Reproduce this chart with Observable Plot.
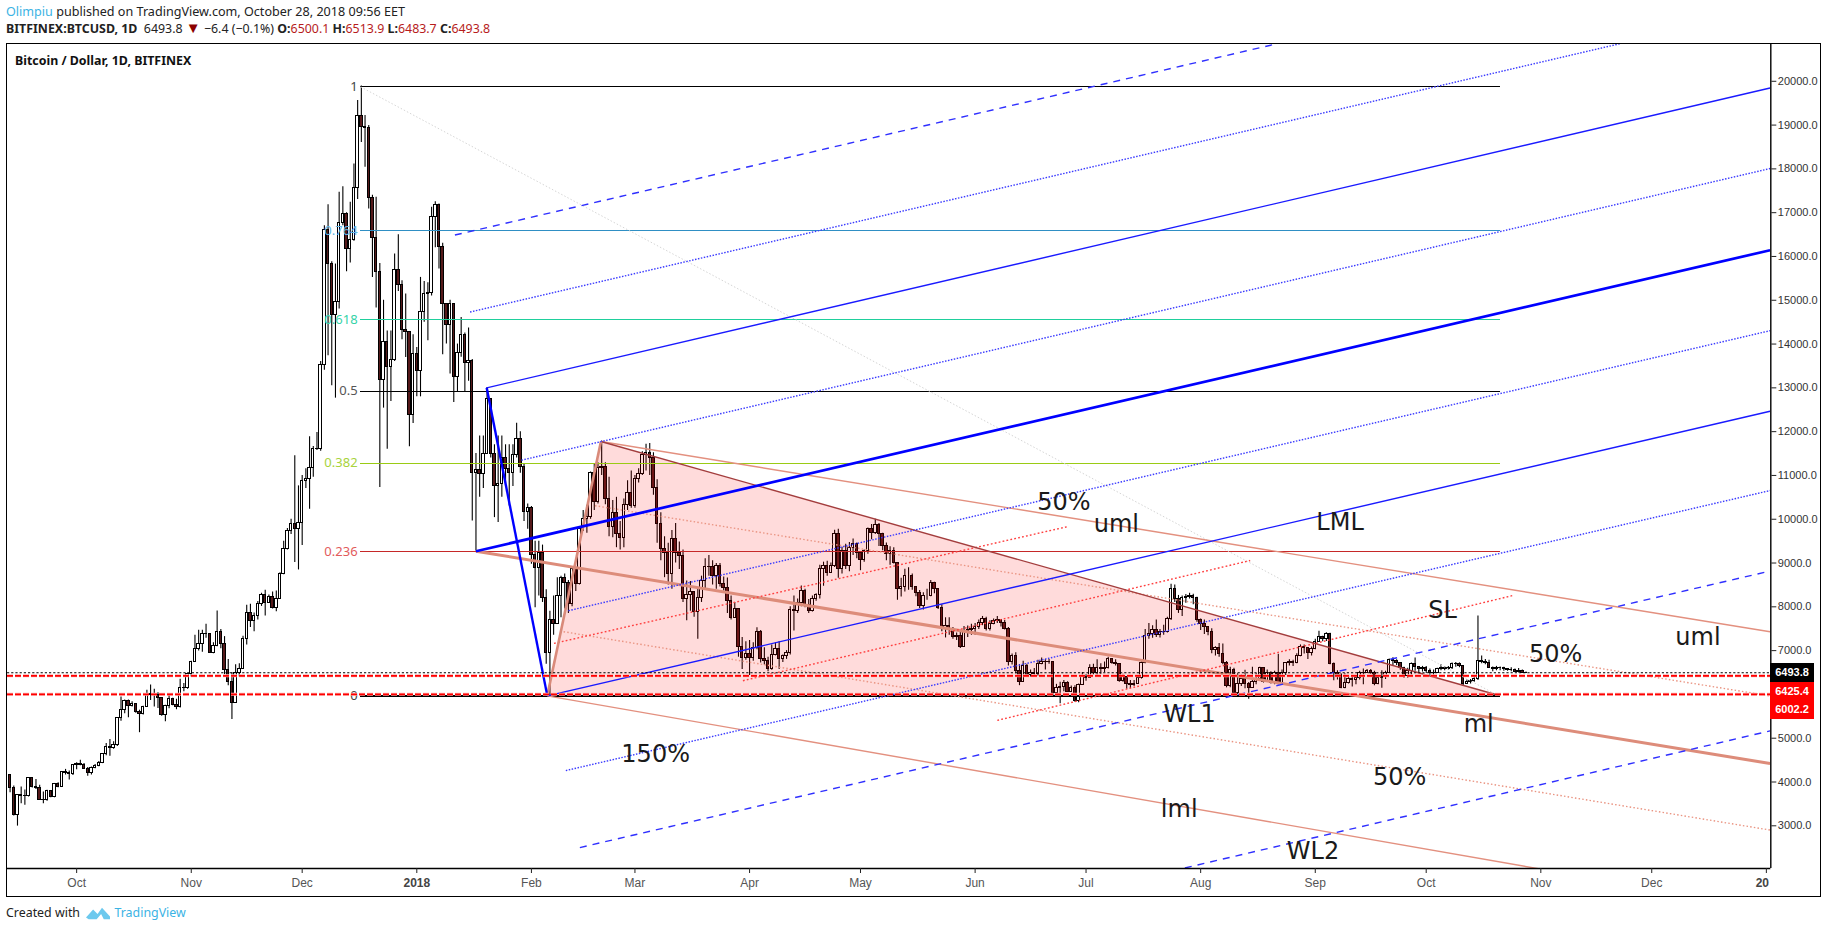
<!DOCTYPE html>
<html><head><meta charset="utf-8">
<script src="https://cdn.jsdelivr.net/npm/d3@7"></script>
<script src="https://cdn.jsdelivr.net/npm/@observablehq/plot@0.6"></script>
<style>
html,body{margin:0;padding:0;background:#fff;width:1828px;height:930px;overflow:hidden}
body{position:relative;font-family:"Noto Sans",sans-serif;color:#222}
.hd{position:absolute;left:6px;white-space:nowrap;font-size:12.4px;line-height:16px}
.hd b{font-weight:700}.hd i{font-style:normal;color:#b71c1c}
#frame{position:absolute;left:6px;top:43px;width:1813px;height:852px;border:1.5px solid #000;pointer-events:none}
#chart{position:absolute;left:7px;top:44px}
.tag{position:absolute;left:1770px;width:44px;height:18.6px;line-height:18.6px;text-align:center;color:#fff;font:700 11px/18.6px "Liberation Sans",sans-serif}
#name{position:absolute;left:15px;top:52px;font-size:12.4px;font-weight:700;color:#111}
</style></head><body>
<div class="hd" style="top:4px;font-size:12.6px"><span style="color:#3bb3e4">Olimpiu</span> published on TradingView.com, October 28, 2018 09:56 EET</div>
<div class="hd" style="top:21px"><b>BITFINEX:BTCUSD, 1D</b>&nbsp; 6493.8 <span style="color:#8b0000;font-size:15px;line-height:12px">▼</span> −6.4 (−0.1%) <b>O:</b><i>6500.1</i> <b>H:</b><i>6513.9</i> <b>L:</b><i>6483.7</i> <b>C:</b><i>6493.8</i></div>
<div id="chart"></div><div id="frame"></div>
<div id="name">Bitcoin / Dollar, 1D, BITFINEX</div>
<div class="hd" style="top:905px">Created with
<svg width="24" height="14" viewBox="0 0 27 14" style="vertical-align:-3px;margin:0 1px 0 3px"><path d="M0 12 L8 3 L13 8 L18 1 L27 11 L27 14 L20 14 L17 8 L12 14 L3 14 Z" fill="#6cc9ee"/></svg>
<span style="color:#3bb3e4;font-size:12.4px">TradingView</span></div>
<script>
// Daily closes, highs, lows of BTCUSD from 13 Sep 2017 (one row per month)
const firstDate = "2017-09-13", firstOpen = 4158;
const closes = [
3854,3237,3701,3680,3670,4082,3892,3869,3595,3590,3793,3656,3945,3892,4227,4197,4173,4387,
4410,4395,4303,4204,4311,4363,4440,4631,4798,4785,4844,5453,5636,5849,5735,5773,5606,5560,5712,6002,5995,5979,5910,5530,5735,5887,5758,5712,6154,6139,6459,
6748,7030,7144,7373,7370,6954,7106,7434,7144,6550,6291,5811,6497,6588,7274,7868,7677,7792,8058,8272,8096,8234,7982,8188,8759,9314,9730,9886,9772,9909,
10876,10914,11166,11600,11610,13527,16604,15827,14669,14951,16764,16970,16170,16383,17564,19217,18950,18935,17335,16414,15637,13176,14037,13466,13633,15690,15355,14319,14280,12384,13770,
13375,14738,15142,15157,16909,17175,16208,14913,14433,14913,13253,13786,14205,13557,13603,11067,11120,11028,11485,12741,11500,10761,10814,11400,11142,11065,11469,11827,11202,10174,10266,
9176,8894,9222,8194,6952,7691,7600,8247,8666,8552,8072,8856,8513,9770,10000,10060,11066,10403,11164,11200,10456,9830,10150,9670,9580,10319,10593,10304,
10913,11027,11469,11507,11393,10723,9900,9313,9237,8757,9542,9240,9150,8171,8262,8330,7881,8209,8590,8910,8900,8700,8930,8520,8430,8130,7752,7942,7089,6838,6930,
6830,7068,7425,6801,6763,6588,6892,7045,6801,6877,6953,7921,7905,8096,8362,8043,7905,8172,8271,8873,8934,8781,8934,9657,8858,9276,8934,9353,9429,9238,
9063,9276,9772,9695,9871,9657,9391,9200,9276,9010,8416,8454,8705,8705,8454,8324,8020,8248,8248,8553,8400,7982,7525,7563,7464,7311,7334,7090,7448,7464,7486,
7540,7639,7715,7486,7616,7677,7692,7639,7502,6748,6877,6534,6291,6649,6443,6489,6458,6702,6732,6748,6732,6024,6154,6169,6260,6062,6139,5850,6215,6398,
6383,6611,6497,6596,6588,6611,6801,6725,6687,6306,6398,6230,6215,6245,6367,6725,7335,7380,7470,7350,7420,7426,7716,8401,8188,7921,8195,8220,8249,8211,7693,
7601,7530,7434,7007,7053,6931,6718,6192,6550,6040,6230,6344,6230,6154,6283,6344,6596,6283,6497,6268,6497,6268,6497,6710,6750,6710,6878,7083,7053,6955,7030,
7205,7312,7259,7373,6703,6497,6440,6154,6268,6344,6330,6367,6497,6500,6540,6496,6230,6367,6397,6496,6778,6763,6717,6611,6420,6534,6687,6634,6572,6611,
6534,6496,6480,6572,6611,6590,6611,6687,6700,6650,6245,6285,6300,6360,6763,6740,6725,6610,6575,6600,6595,6580,6560,6555,6520,6530,6500,6493.8];
const highs = [
3865,3907,3710,3884,3815,4100,3955,4060,3925,3770,3812,3800,3967,3983,4240,4288,4250,4400,
4440,4495,4420,4330,4340,4400,4470,4650,4880,4973,4920,5470,5941,5870,5870,5835,5790,5640,5730,6093,6215,6120,6040,5925,5750,5980,5910,5890,6344,6250,6490,
6760,7350,7464,7464,7601,7390,7180,7906,7480,7320,6800,6500,6680,6700,7330,8035,8060,7860,8120,8310,8380,8270,8340,8360,8780,9500,9790,10000,11447,10762,
11000,11150,11882,11660,11980,13600,16700,17183,15880,15827,17465,17594,17000,17236,18112,19560,19891,19217,18990,17400,17350,15842,15000,14300,14300,16056,16497,15446,15142,14288,14212,
13920,15522,15431,15400,17122,17251,17200,16300,14913,15000,14913,14000,14608,14250,14365,13650,11500,11900,11900,13008,12741,11700,11903,11903,11700,11700,11700,12193,11995,11250,10350,
10290,9500,9500,9410,8390,7900,8250,8666,8700,8750,8600,8900,8860,9800,10200,10320,11080,11250,11290,11785,11290,10960,10430,10500,9950,10460,10880,11100,
11000,11150,11540,11710,11728,11520,10900,10150,9600,9450,9740,9900,9480,9300,8590,8580,8350,8400,8700,9100,9170,9050,8990,8990,8680,8660,8250,8100,7950,7300,7200,
7230,7180,7520,7460,7068,6850,7130,7180,7200,6900,7000,8000,8248,8180,8477,8400,8170,8250,8300,8950,9020,9040,9000,9749,9770,9360,9430,9467,9550,9460,
9260,9300,9800,9880,10000,9900,9680,9460,9370,9350,9010,8650,8858,8890,8750,8460,8370,8320,8400,8600,8560,8420,8050,7750,7750,7530,7400,7450,7550,7560,7600,
7620,7700,7780,7760,7680,7720,7780,7700,7690,7530,6920,6950,6680,6760,6690,6560,6590,6780,6830,6800,6800,6740,6230,6280,6320,6290,6190,6200,6240,6500,
6450,6680,6690,6790,6700,6740,6850,6810,6790,6700,6460,6400,6320,6320,6400,6760,7480,7620,7570,7700,7480,7580,7760,8515,8500,8260,8250,8280,8310,8290,8220,
7720,7700,7540,7500,7090,7160,7150,6750,6620,6600,6470,6450,6550,6270,6620,6480,6620,6600,6560,6520,6530,6916,6560,6730,6790,6780,6930,7130,7130,7070,7080,
7260,7440,7330,7410,7396,6720,6540,6470,6470,6400,6410,6420,6530,6580,6570,6570,6530,6420,6540,6530,6810,6840,6790,6730,6620,6600,6720,6830,6640,6640,
6640,6580,6560,6600,6680,6630,6640,6720,6730,6720,6660,6330,6340,6380,7791,6877,6800,6780,6625,6640,6625,6620,6590,6610,6580,6590,6560,6513.9];
const lows = [
3755,3225,2993,3503,3470,3655,3865,3830,3585,3504,3560,3640,3640,3870,3880,4160,4044,4150,
4280,4370,4290,4130,4160,4300,4350,4420,4600,4590,4750,4810,5390,5560,5468,5710,5570,5126,5530,5700,5860,5710,5680,5500,5377,5670,5740,5650,5690,6060,6120,
6400,6750,6990,6960,7280,6954,6930,7090,7040,6450,6200,5430,5810,6400,6590,7130,7530,7430,7700,8010,7792,8080,7950,7890,8170,8730,9300,9650,9010,8842,
9400,10700,10229,10960,11570,11550,13400,13733,13047,12765,14800,16700,15652,15850,16350,17300,18600,18036,17084,15522,14822,10724,12537,11600,12689,13600,15200,14100,13694,11653,12186,
12795,12795,14500,14075,15100,16200,15713,13755,14000,13314,12666,12894,13700,12894,13150,9962,9276,10500,10700,11480,11400,10037,9923,10500,10750,10304,10750,11400,11050,9950,9770,
8970,7980,8250,8100,6686,5975,7350,7600,7750,7950,7850,8000,8350,8500,9720,9680,10000,10200,10350,11000,10330,9600,9580,9350,9300,9350,10200,10250,
10250,10830,11000,11100,11000,10550,9450,9050,8666,8500,8400,9000,8850,8100,7680,7900,7760,7257,8100,8400,8700,8500,8400,8450,8360,7850,7700,7740,6850,6571,6780,
6430,6760,7020,6720,6670,6520,6550,6880,6570,6730,6800,6900,7450,7850,8000,7980,7850,7880,8130,8180,8470,8700,8850,8900,8650,8750,8850,8800,9170,9100,
8825,9020,9200,9530,9650,9380,9280,9050,8950,8980,8150,8225,8340,8380,8380,8230,7960,7930,8150,8230,8300,7940,7430,7290,7350,7260,7230,7050,7070,7300,7350,
7350,7480,7570,7450,7450,7590,7620,7540,7470,6650,6670,6470,6200,6280,6400,6400,6420,6420,6680,6560,6690,5950,6030,5788,6060,6050,6050,5820,5811,6210,
6300,6370,6450,6420,6460,6500,6580,6690,6650,6280,6280,6120,6130,6180,6240,6350,6700,7260,7280,7300,7290,7350,7400,7690,8100,7850,7780,8080,8180,8050,7650,
7460,7370,7340,6930,6880,6850,6680,6150,6150,5980,5990,6180,6130,5887,6180,6220,6330,6260,6270,6240,6220,6220,6350,6430,6650,6640,6700,6860,6920,6800,6880,
7020,7190,7200,7210,6680,6310,6330,6130,6130,6240,6170,6220,6330,6220,6490,6460,6200,6220,6138,6340,6490,6660,6660,6550,6370,6370,6440,6530,6480,6510,
6480,6440,6430,6480,6540,6540,6560,6570,6620,6610,6200,6230,6240,6280,6320,6700,6680,6590,6520,6540,6540,6530,6530,6520,6500,6490,6490,6483.7];

// Drawing anchors: [days after 1 Oct 2017, price, days, price]
const forkOrigin = "2017-10-01";
const pitchMedian = [[108,9270,458,16143]];
const pitchRails = [[110.9,13000,458,19846],[127.3,5967,458,12467]];
const pitchHandle = [[110.9,13000,127.3,5967]];
const pitchDotted = [[106.4,14731,420.8,20925],[120.3,11348,458,18008],[133,7911,458,14305],[132.3,4261,458,10655]];
const pitchDashed = [[102.3,16489,324.7,20858],[136.1,2503,458,8817],[296.3,1970,458,5167]];
const salmonMedian = [[108,9270,458,4422]];
const salmonRails = [[141.8,11774,458,7432],[127.3,5967,401.9,1924]];
const salmonDotted = [[140.2,10309,458,5966],[131.7,7432,458,2903]];
const redDotted = [[129.1,7165,267.9,9829],[180.2,6313,317.4,9057],[249,5407,388.4,8258]];
const greyTrend = [[76.8,19873,384,5993]];
const triangleEdge = [[141.8,11774,384,5993]];
const triangleLeft = [[127.3,5975,141.8,11774]];
const triangleDays = [141.8,384,127.3];
const trianglePrices = [11774,5993,5975];

// Fibonacci retracement
const fibRatios = ["1","0.764","0.618","0.5","0.382","0.236","0"];
const fibPrices = [19872,16592,14563,12923,11284,9255,5965];
const fibColors = ["#000","#2f8fc4","#1fcf9c","#000","#9acb14","#c62828","#000"];
const fibLabelColors = ["#444","#62b5e5","#35d3a8","#555","#a8d33c","#e25b5b","#444"];
const fibSpan = [76.8,385.2];

// Horizontal price lines and tags
const lastPrice = 6493.8, redLevels = [6425.4,6002.2];

// Text notes on the chart
const noteTexts = ["50%","uml","LML","SL","50%","uml","ml","WL1","150%","50%","lml","WL2"];
const noteDays = [267,281.2,341.7,369.4,400,438.5,379.2,301,156.6,357.8,298.2,334.4];
const notePrices = [10389,9883,9936,7911,6926,7299,5327,5540,4635,4102,3382,2424];

// Axes
const priceTicks = d3.range(3000,20001,1000);
const monthTicks = ["2017-10-01","2017-11-01","2017-12-01","2018-01-01","2018-02-01","2018-03-01","2018-04-01","2018-05-01","2018-06-01","2018-07-01","2018-08-01","2018-09-01","2018-10-01","2018-11-01","2018-12-01","2019-01-01"];
const monthLabels = ["Oct","Nov","Dec","","Feb","Mar","Apr","May","Jun","Jul","Aug","Sep","Oct","Nov","Dec",""];
const yearTick = "2018-01-01", yearLabel = "2018", cutTick = "2019-01-01", cutLabel = "20";
const xDomainDays = [-18.7,458.2], yDomain = [2025,20840];

if(closes.length!==highs.length||closes.length!==lows.length) throw new Error("len "+closes.length+" "+highs.length+" "+lows.length);

const DAY = 864e5, t0 = +new Date(forkOrigin+"T00:00Z"), tStart = +new Date(firstDate+"T00:00Z");
const day = n => new Date(t0 + n*DAY);
const candles = closes.map((c,i)=>{
  const o = i ? closes[i-1] : firstOpen;
  return {t:tStart+i*DAY,o,c,h:Math.max(highs[i],o,c),l:Math.min(lows[i],o,c)};
});
const half = .33*DAY;
const seg = (rows,opts) => Plot.link(rows,{x1:r=>day(r[0]),y1:r=>r[1],x2:r=>day(r[2]),y2:r=>r[3],clip:"frame",strokeLinecap:"butt",...opts});
const body = (test,fill) => Plot.rect(candles,{filter:test,x1:d=>new Date(d.t-half),x2:d=>new Date(d.t+half),y1:"o",y2:"c",fill,stroke:"#000",strokeWidth:1,shapeRendering:"crispEdges"});
const boldTick = (s,label,dx) => Plot.text([s],{x:d=>new Date(d+"T00:00Z"),frameAnchor:"bottom",dy:15,dx,text:()=>label,fontWeight:"700",fontSize:12,fill:"#444",lineAnchor:"middle"});

const W = 1814, H = 852;
const chart = Plot.plot({
  width:W,height:H,marginLeft:0,marginRight:50.7,marginTop:0,marginBottom:28,
  style:{background:"transparent",fontFamily:'"Liberation Sans",sans-serif',overflow:"visible"},
  x:{type:"utc",domain:xDomainDays.map(day)},
  y:{domain:yDomain},
  marks:[
    // candles
    Plot.ruleX(candles,{x:d=>new Date(d.t),y1:"l",y2:"h",stroke:"#000",strokeWidth:1.1}),
    body(d=>d.c>=d.o,"#fff"),
    body(d=>d.c<d.o,"#55191a"),
    // pink triangle above the candles
    Plot.line(triangleDays.map((d,i)=>({t:day(d),p:trianglePrices[i]})),{x:"t",y:"p",fill:"#ff0000",fillOpacity:.14,stroke:"none",clip:"frame"}),
    // fib levels
    Plot.ruleY(fibPrices,{x1:day(fibSpan[0]),x2:day(fibSpan[1]),y:d=>d,stroke:(d,i)=>fibColors[i],strokeWidth:(d,i)=>i===6?2:1,shapeRendering:"crispEdges"}),
    Plot.text(fibPrices,{x:day(fibSpan[0]),y:d=>d,text:(d,i)=>fibRatios[i],fill:(d,i)=>fibLabelColors[i],textAnchor:"end",dx:-3,fontSize:13,fontFamily:"Noto Sans"}),
    // grey trend
    seg(greyTrend,{stroke:"#d5d5d5",strokeWidth:1,strokeDasharray:"1.5,2"}),
    // salmon fork
    seg(salmonMedian,{stroke:"#dd8c7a",strokeWidth:3}),
    seg(salmonRails,{stroke:"#e3907f",strokeWidth:1.4}),
    seg(salmonDotted,{stroke:"#ea9583",strokeWidth:1.4,strokeDasharray:"1.5,2.2"}),
    seg(redDotted,{stroke:"#ff4040",strokeWidth:1.4,strokeDasharray:"1.8,2.2"}),
    seg(triangleEdge,{stroke:"#a33d3d",strokeWidth:1.4}),
    seg(triangleLeft,{stroke:"#d98a7a",strokeWidth:2.6}),
    // blue fork
    seg(pitchMedian,{stroke:"#0000ff",strokeWidth:2.7}),
    seg(pitchRails,{stroke:"#1a1aff",strokeWidth:1.4}),
    seg(pitchHandle,{stroke:"#0000ff",strokeWidth:2.4}),
    seg(pitchDotted,{stroke:"#3a3aff",strokeWidth:1.4,strokeDasharray:"1.5,1.5"}),
    seg(pitchDashed,{stroke:"#2f2fff",strokeWidth:1.4,strokeDasharray:"7,6"}),
    // price lines
    Plot.ruleY(redLevels,{stroke:"#ffb3b3",strokeWidth:3,strokeDasharray:"6,2"}),
    Plot.ruleY(redLevels,{stroke:"#ff0000",strokeWidth:1.8,strokeDasharray:"6,2"}),
    Plot.ruleY([lastPrice],{stroke:"#000",strokeWidth:1.1,strokeDasharray:"2.2,2"}),
    // notes
    Plot.text(noteTexts,{x:(d,i)=>day(noteDays[i]),y:(d,i)=>notePrices[i],text:d=>d,fill:"#1a1a1a",fontSize:24,fontFamily:"DejaVu Sans",textAnchor:"middle",lineAnchor:"middle"}),
    // axes
    Plot.ruleX([day(xDomainDays[1])],{stroke:"#000",strokeWidth:1.4}),
    Plot.ruleY([yDomain[0]],{stroke:"#000",strokeWidth:1.4}),
    Plot.axisY({anchor:"right",ticks:priceTicks,tickSize:5,tickPadding:2,tickFormat:d=>d.toFixed(1),label:null,fontSize:11,color:"#333",stroke:"#222"}),
    Plot.axisX({ticks:monthTicks.map(s=>new Date(s+"T00:00Z")),tickSize:5,tickPadding:5,tickFormat:d=>monthLabels[monthTicks.indexOf(d3.utcFormat("%Y-%m-%d")(d))],label:null,fontSize:12,color:"#555",stroke:"#222"}),
    boldTick(yearTick,yearLabel,0),
    boldTick(cutTick,cutLabel,-4)
  ]
});
document.getElementById("chart").appendChild(chart);

// Price tags, stacked beneath the last price like the reference
const sy = chart.scale("y");
const tagTop = sy.apply(lastPrice)+44-9.3;
[[lastPrice,"#000"],[redLevels[0],"#f00"],[redLevels[1],"#f00"]].forEach(([v,c],i)=>{
  const el=document.createElement("div");el.className="tag";el.textContent=v.toFixed(1);
  el.style.background=c;el.style.top=(tagTop+i*18.6)+"px";document.body.appendChild(el);
});
</script></body></html>
